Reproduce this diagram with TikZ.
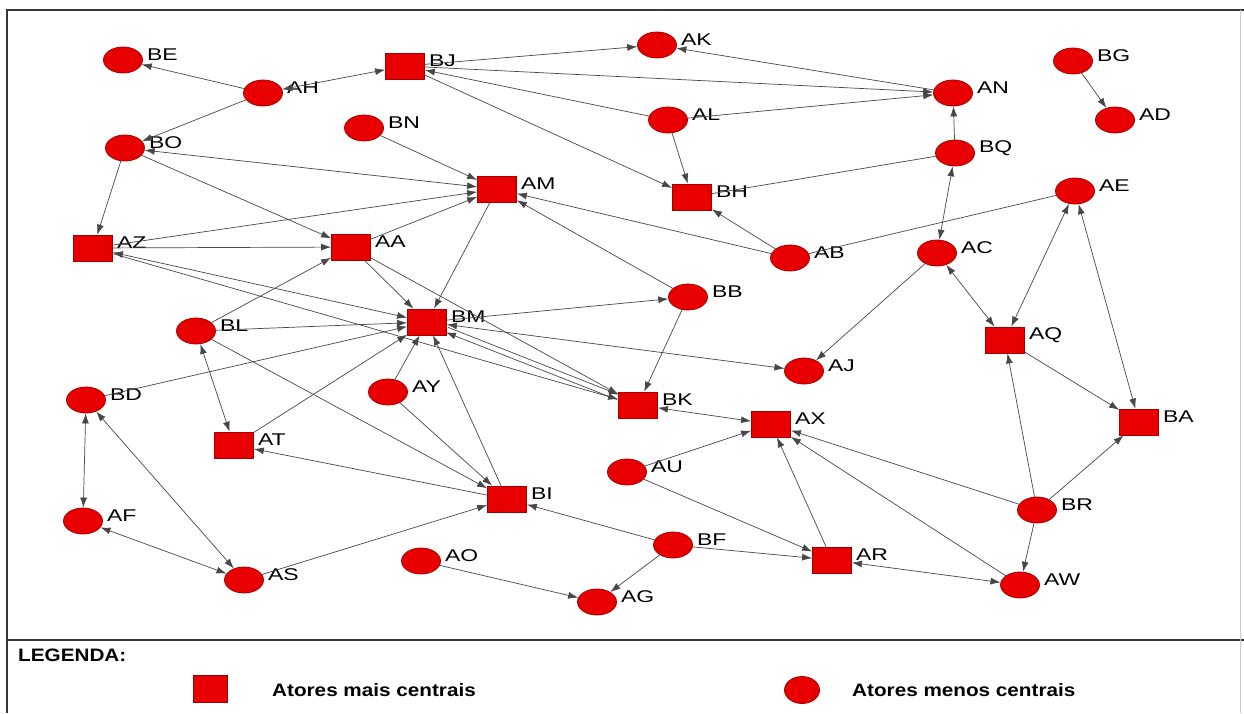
\documentclass[tikz,border=0pt]{standalone}
\usepackage{fontspec}
\setmainfont{Liberation Sans}
\usetikzlibrary{shapes.geometric,arrows.meta}
\definecolor{actred}{RGB}{232,0,0}
\definecolor{actedge}{RGB}{165,0,0}
\tikzset{
 circ/.style={ellipse, fill=actred, draw=actedge, line width=0.8pt, minimum width=39pt, minimum height=26pt, inner sep=0pt},
 sq/.style={rectangle, fill=actred, draw=actedge, line width=0.8pt, minimum width=39pt, minimum height=26pt, inner sep=0pt},
 lab/.style={anchor=west, inner sep=0pt, font=\fontsize{17}{18}\selectfont, text=black},
 legtxt/.style={anchor=west, inner sep=0pt, font=\bfseries\fontsize{18}{19}\selectfont, text=black},
 lk/.style={draw=black!72, line width=0.7pt},
 arr/.style={lk, -{Latex[length=10pt,width=7pt]}},
 barr/.style={lk, {Latex[length=10pt,width=7pt]}-{Latex[length=10pt,width=7pt]}},
 frame/.style={draw=black!78, line width=2pt},
}
\newcommand{\actor}[4]{\node[#1] (#2) at (#3,#4) {};
 \node[lab] (#2-lab) at ([xshift=4pt,yshift=5pt]#2.east) {\scalebox{1.35}[1]{#2}};}
\begin{document}
\begin{tikzpicture}[x=1pt,y=-1pt]
\useasboundingbox (0,0) rectangle (1244,713);
\fill[white] (0,0) rectangle (1244,713);
% frame
\draw[frame] (7,713) -- (7,10) -- (1244,10);
\draw[frame] (7,640) -- (1244,640);
\draw[draw=black!20, line width=1pt] (1240,10) -- (1240,713);
% actors
\actor{circ}{BE}{123}{60}
\actor{circ}{AH}{263}{93}
\actor{circ}{AK}{657}{45}
\actor{circ}{AN}{953}{93}
\actor{circ}{BG}{1073}{61}
\actor{circ}{AD}{1115}{120}
\actor{circ}{BN}{364}{128}
\actor{circ}{BO}{125}{148}
\actor{circ}{AL}{668}{120}
\actor{circ}{BQ}{955}{153}
\actor{circ}{AE}{1075}{191}
\actor{circ}{AB}{790}{258}
\actor{circ}{AC}{937}{253}
\actor{circ}{BB}{688}{297}
\actor{circ}{BL}{196}{331}
\actor{circ}{AJ}{804}{371}
\actor{circ}{AY}{388}{392}
\actor{circ}{BD}{86}{400}
\actor{circ}{AU}{627}{472}
\actor{circ}{BR}{1037}{510}
\actor{circ}{AF}{83}{521}
\actor{circ}{BF}{673}{545}
\actor{circ}{AO}{421}{561}
\actor{circ}{AS}{244}{580}
\actor{circ}{AW}{1020}{585}
\actor{circ}{AG}{597}{602}
\actor{sq}{BJ}{405}{66}
\actor{sq}{AM}{497}{189}
\actor{sq}{BH}{692}{197}
\actor{sq}{AZ}{93}{248}
\actor{sq}{AA}{351}{247}
\actor{sq}{BM}{427}{322}
\actor{sq}{AQ}{1005}{340}
\actor{sq}{BK}{638}{405}
\actor{sq}{AX}{771}{424}
\actor{sq}{BA}{1139}{422}
\actor{sq}{AT}{234}{445}
\actor{sq}{BI}{507}{499}
\actor{sq}{AR}{832}{560}
% ties
\draw[arr] (AH) -- (BE);
\draw[barr] (AH) -- (BJ);
\draw[arr] (AH) -- (BO);
\draw[arr] (BO) -- (AZ);
\draw[arr] (BO) -- (AA);
\draw[barr] (BO) -- (AM);
\draw[arr] (BN) -- (AM);
\draw[arr] (AZ) -- (AM);
\draw[arr] (AZ) -- (AA);
\draw[arr] (AA) -- (AM);
\draw[arr] (BL) -- (AA);
\draw[arr] (AM) -- (BM);
\draw[arr] (AA) -- (BM);
\draw[arr] (AA) -- (BK);
\draw[arr] (AB) -- (AM);
\draw[arr] (BB) -- (AM);
\draw[arr] (AB) -- (BH);
\draw[lk] (AB) -- (AE);
\draw[arr] (BJ) -- (AK);
\draw[arr] (AN) -- (AK);
\draw[arr] (BJ) -- (AN);
\draw[arr] (AL) -- (AN);
\draw[arr] (AL) -- (BJ);
\draw[arr] (BJ) -- (BH);
\draw[arr] (AL) -- (BH);
\draw[arr] (BQ) -- (AN);
\draw[lk] (BQ) -- (BH);
\draw[barr] (BQ) -- (AC);
\draw[arr] (BG) -- (AD);
\draw[arr] (AC) -- (AJ);
\draw[barr] (AC) -- (AQ);
\draw[barr] (AE) -- (AQ);
\draw[barr] (AE) -- (BA);
\draw[arr] (AQ) -- (BA);
\draw[arr] (BR) -- (AQ);
\draw[arr] (BR) -- (BA);
\draw[arr] (BR) -- (AX);
\draw[arr] (BR) -- (AW);
\draw[arr] (AW) -- (AX);
\draw[arr] (AR) -- (AX);
\draw[barr] (AR) -- (AW);
\draw[arr] (AU) -- (AX);
\draw[arr] (AU) -- (AR);
\draw[arr] (BF) -- (AR);
\draw[arr] (BF) -- (BI);
\draw[arr] (BF) -- (AG);
\draw[arr] (AO) -- (AG);
\draw[barr] (BK) -- (AX);
\draw[arr] (BB) -- (BK);
\draw[arr] (BM) -- (BB);
\draw[barr] (BM) -- (AJ);
\draw[arr, transform canvas={shift={(1pt,2.5pt)}}] (BM) -- (BK);
\draw[arr, transform canvas={shift={(-1pt,-2.5pt)}}] (BK) -- (BM);
\draw[barr] (AZ) -- (BM);
\draw[arr] (AZ) -- (BK);
\draw[arr] (BL) -- (BM);
\draw[arr] (BD) -- (BM);
\draw[arr] (AT) -- (BM);
\draw[arr] (AY) -- (BM);
\draw[arr] (BI) -- (BM);
\draw[arr] (BI) -- (AT);
\draw[barr] (BL) -- (AT);
\draw[arr] (BL) -- (BI);
\draw[arr] (AY) -- (BI);
\draw[arr] (AS) -- (BI);
\draw[barr] (BD) -- (AF);
\draw[barr] (BD) -- (AS);
\draw[barr] (AF) -- (AS);
% legend
\node[legtxt] (legtitle) at (18,655) {\scalebox{1.15}[1]{LEGENDA:}};
\node[sq, minimum width=34pt, minimum height=27pt] (legsq) at (210,689) {};
\node[legtxt] (legmais) at (272,690) {\scalebox{1.15}[1]{Atores mais centrais}};
\node[circ, minimum width=35pt, minimum height=27pt] (legci) at (802,690) {};
\node[legtxt] (legmenos) at (852,690) {\scalebox{1.15}[1]{Atores menos centrais}};
\end{tikzpicture}
\end{document}
